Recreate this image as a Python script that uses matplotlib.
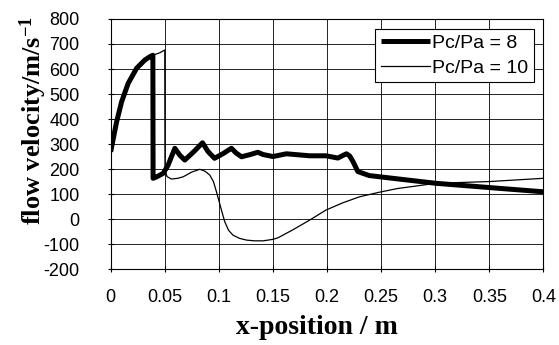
import numpy as np
import matplotlib
matplotlib.use('Agg')
import matplotlib.pyplot as plt

# Pc/Pa = 8 (thick line)
x8 = [0.0, 0.003, 0.0055, 0.0101, 0.0162, 0.024, 0.0316, 0.0365, 0.0390, 0.0392,
      0.043, 0.0486, 0.053, 0.0593, 0.064, 0.0685, 0.077, 0.0849, 0.090, 0.096,
      0.104, 0.1116, 0.116, 0.121, 0.129, 0.136, 0.141, 0.150, 0.1624, 0.184,
      0.199, 0.210, 0.215, 0.218, 0.221, 0.224, 0.2285, 0.239, 0.2607, 0.3007,
      0.35, 0.4]
v8 = [269, 335, 389, 469, 543, 603, 636, 650, 655, 163,
      170, 183, 215, 283, 255, 236, 270, 305, 270, 243,
      262, 283, 264, 249, 258, 267, 258, 250, 261, 253,
      253, 244, 255, 261, 252, 230, 190, 174, 163, 143,
      126, 109]

# Pc/Pa = 10 (thin line)
x10 = [0.0, 0.003, 0.0055, 0.0101, 0.0162, 0.024, 0.0316, 0.039, 0.0455, 0.0500,
       0.0502, 0.0520, 0.0562, 0.062, 0.067, 0.075, 0.0824, 0.087, 0.0916, 0.0950,
       0.0978, 0.1024, 0.1054, 0.109, 0.113, 0.119, 0.1255, 0.133, 0.141, 0.150,
       0.1546, 0.168, 0.184, 0.199, 0.2146, 0.230, 0.248, 0.265, 0.3007, 0.35,
       0.4]
v10 = [269, 335, 389, 469, 543, 603, 636, 655, 665, 676,
       200, 170, 160, 163, 169, 188, 199, 192, 176, 150,
       109, 36, -10, -45, -64, -77, -84, -87, -87, -81,
       -75, -44, -4, 36, 65, 89, 107, 122, 143, 150,
       163]

xticks = [0, 0.05, 0.1, 0.15, 0.2, 0.25, 0.3, 0.35, 0.4]
xtick_labels = ['0', '0.05', '0.1', '0.15', '0.2', '0.25', '0.3', '0.35', '0.4']
yticks = list(range(-200, 801, 100))

plt.rcParams['font.family'] = 'Liberation Sans'
plt.rcParams['axes.unicode_minus'] = False
plt.rcParams['mathtext.fontset'] = 'custom'
plt.rcParams['mathtext.rm'] = 'Liberation Serif:bold'
plt.rcParams['mathtext.default'] = 'rm'

fig = plt.figure(figsize=(5.59, 3.45), dpi=100)
ax = fig.add_axes([0.198, 0.220, 0.774, 0.725])

ax.plot(x8, v8, color='black', lw=3.6, label='Pc/Pa = 8',
        solid_joinstyle='round', solid_capstyle='butt')
ax.plot(x10, v10, color='black', lw=0.9, label='Pc/Pa = 10')

ax.set_xlim(0, 0.4)
ax.set_ylim(-200, 800)
ax.set_xticks(xticks)
ax.set_xticklabels(xtick_labels)
ax.set_yticks(yticks)
ax.grid(True, color='black', lw=0.6)
ax.tick_params(direction='inout', length=5, width=0.8, labelsize=13)
ax.tick_params(axis='x', pad=12)
ax.tick_params(axis='y', pad=20)
for s in ax.spines.values():
    s.set_linewidth(0.8)

ax.set_xlabel('x-position / m', family='Liberation Serif', fontweight='bold', fontsize=20)
ax.xaxis.set_label_coords(0.476, -0.185)
ax.set_ylabel(r'flow velocity/m/s$^{-1}$', family='Liberation Serif', fontweight='bold', fontsize=19)
ax.yaxis.set_label_coords(-0.143, 0.596)

leg = ax.legend(loc='upper right', fontsize=14, frameon=True, fancybox=False, edgecolor='black',
                handlelength=2.5, handletextpad=0.1, borderaxespad=0.5, borderpad=0.3,
                labelspacing=0.35, framealpha=1)
leg.get_frame().set_linewidth(0.8)

fig.savefig('out.png', dpi=100)
